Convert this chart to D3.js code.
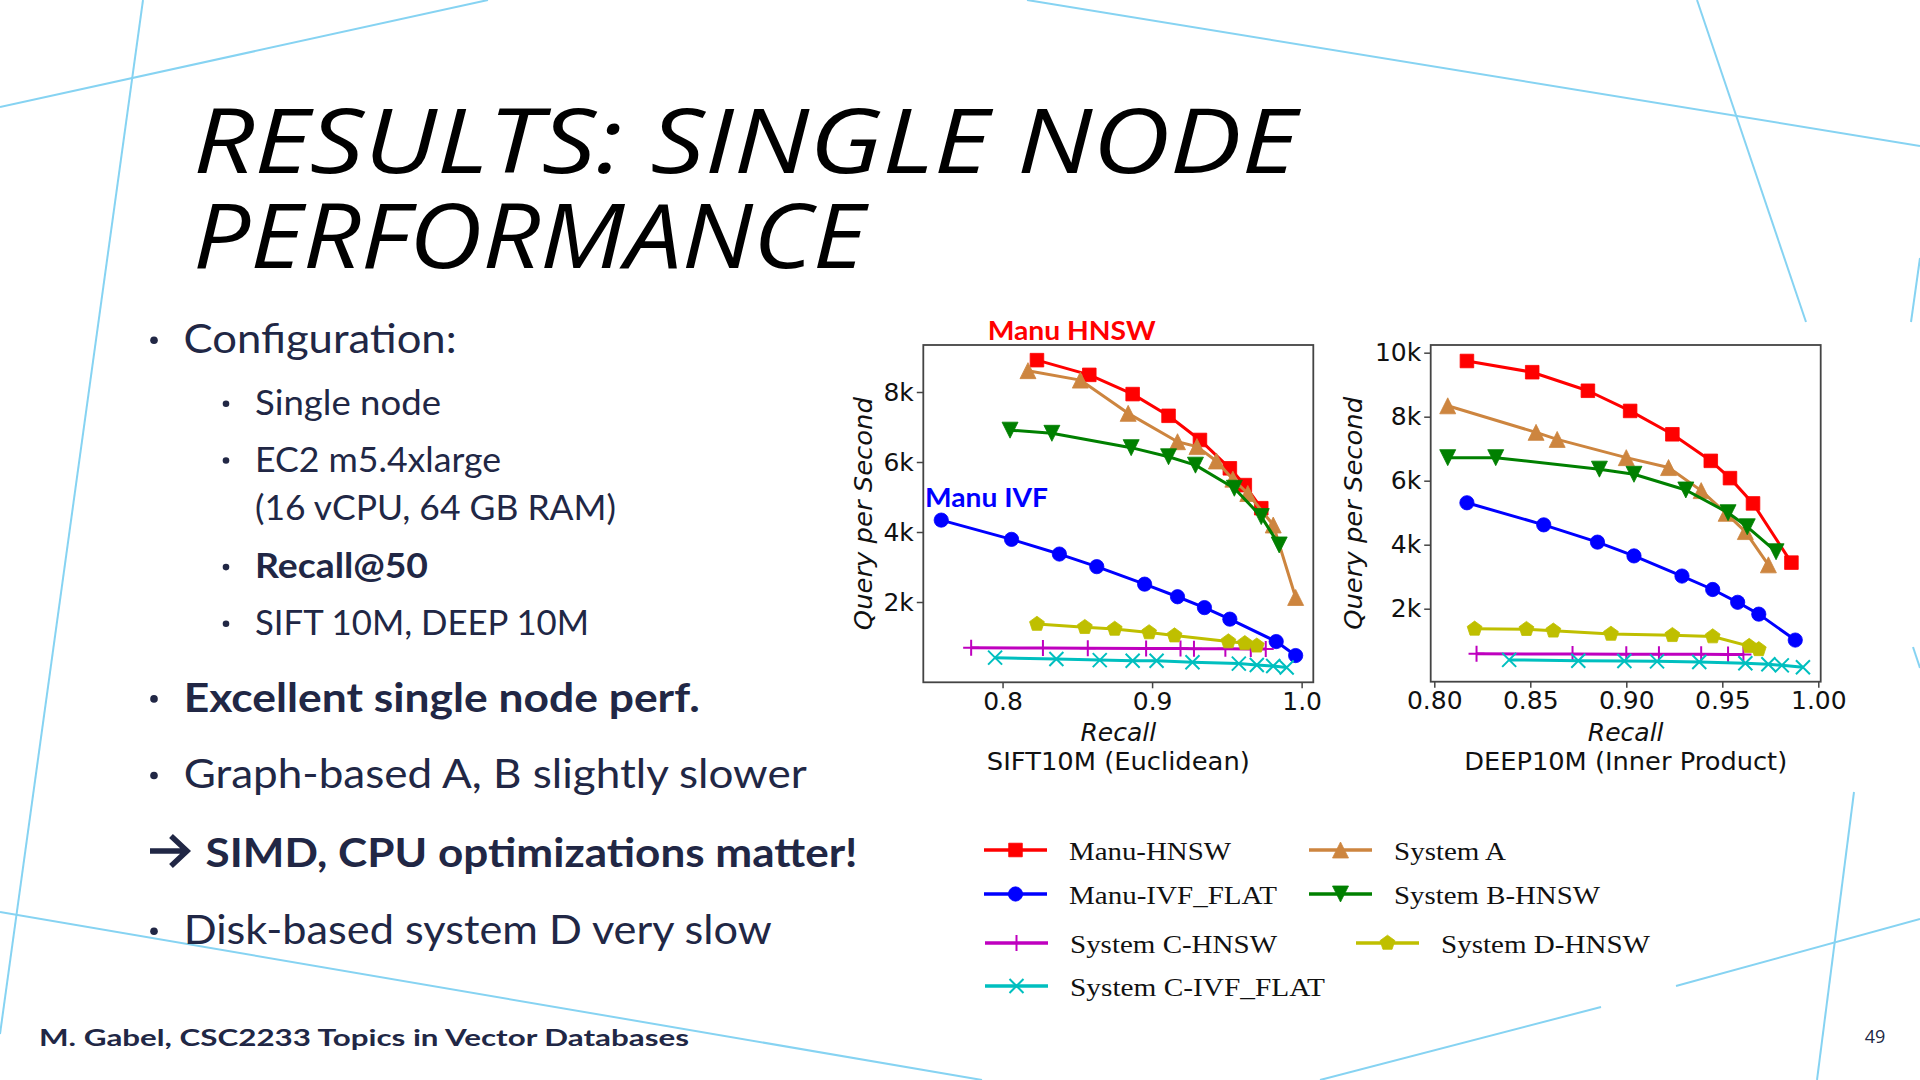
<!DOCTYPE html>
<html>
<head>
<meta charset="utf-8">
<script src="https://cdn.jsdelivr.net/npm/d3@7"></script>
<style>
  html, body { margin: 0; padding: 0; background: #fff; }
  svg { display: block; }
</style>
</head>
<body>
<svg id="slide" width="1920" height="1080"></svg>
<script>
// ---- data: [recall, queries per second] ----
var siftManuHnsw = [[0.823,8910],[0.858,8490],[0.887,7940],[0.911,7320],[0.932,6630],[0.952,5820],[0.962,5340],[0.973,4680]];
var siftManuIvf  = [[0.759,4340],[0.806,3790],[0.838,3370],[0.863,3010],[0.895,2510],[0.917,2150],[0.935,1840],[0.952,1510],[0.983,870],[0.996,470]];
var siftSystemA  = [[0.817,8610],[0.852,8340],[0.884,7390],[0.917,6580],[0.930,6440],[0.943,6030],[0.954,5510],[0.964,5100],[0.981,4200],[0.996,2130]];
var siftSystemB  = [[0.805,6910],[0.833,6820],[0.886,6410],[0.911,6150],[0.929,5910],[0.955,5250],[0.973,4440],[0.985,3630]];
var siftSystemCHnsw = [[0.779,690],[0.827,685],[0.857,680],[0.896,675],[0.919,670],[0.928,668],[0.949,665],[0.966,660],[0.976,655]];
var siftSystemD  = [[0.823,1370],[0.855,1280],[0.875,1230],[0.898,1130],[0.915,1040],[0.951,870],[0.962,820],[0.970,750]];
var siftSystemCIvf = [[0.795,410],[0.836,370],[0.865,340],[0.887,320],[0.903,320],[0.927,280],[0.958,240],[0.970,200],[0.981,170],[0.990,130]];

var deepManuHnsw = [[0.817,9740],[0.851,9390],[0.880,8810],[0.902,8180],[0.924,7450],[0.944,6620],[0.954,6080],[0.966,5290],[0.986,3440]];
var deepManuIvf  = [[0.817,5310],[0.857,4620],[0.885,4080],[0.904,3650],[0.929,3020],[0.945,2600],[0.958,2200],[0.969,1830],[0.988,1020]];
var deepSystemA  = [[0.807,8340],[0.853,7510],[0.864,7290],[0.900,6720],[0.922,6410],[0.939,5690],[0.952,4980],[0.962,4410],[0.974,3370]];
var deepSystemB  = [[0.807,6720],[0.832,6720],[0.886,6360],[0.904,6200],[0.931,5710],[0.953,5000],[0.963,4560],[0.978,3780]];
var deepSystemCHnsw = [[0.822,590],[0.872,585],[0.900,580],[0.917,578],[0.939,575],[0.953,572],[0.961,570]];
var deepSystemD  = [[0.821,1370],[0.848,1360],[0.862,1310],[0.892,1210],[0.924,1170],[0.945,1130],[0.964,830],[0.969,730]];
var deepSystemCIvf = [[0.839,400],[0.875,375],[0.899,365],[0.916,355],[0.938,335],[0.962,295],[0.974,265],[0.981,230],[0.992,170]];

var seriesNames = ["Manu-HNSW","Manu-IVF_FLAT","System A","System B-HNSW","System C-HNSW","System D-HNSW","System C-IVF_FLAT"];
var siftTicksX = [0.8, 0.9, 1.0];
var siftTicksY = [2000, 4000, 6000, 8000];
var deepTicksX = [0.80, 0.85, 0.90, 0.95, 1.00];
var deepTicksY = [2000, 4000, 6000, 8000, 10000];

// ---- styling per series ----
var series = [
  {name: seriesNames[0], color: "#ff0000", marker: "square",  sift: siftManuHnsw,    deep: deepManuHnsw,    leg: [984, 850]},
  {name: seriesNames[1], color: "#0000ff", marker: "circle",  sift: siftManuIvf,     deep: deepManuIvf,     leg: [984, 894]},
  {name: seriesNames[2], color: "#cd853f", marker: "triUp",   sift: siftSystemA,     deep: deepSystemA,     leg: [1309, 850]},
  {name: seriesNames[3], color: "#008000", marker: "triDown", sift: siftSystemB,     deep: deepSystemB,     leg: [1309, 894]},
  {name: seriesNames[4], color: "#bf00bf", marker: "plus",    sift: siftSystemCHnsw, deep: deepSystemCHnsw, leg: [985, 943]},
  {name: seriesNames[5], color: "#bfbf00", marker: "pent",    sift: siftSystemD,     deep: deepSystemD,     leg: [1356, 943]},
  {name: seriesNames[6], color: "#00bfbf", marker: "cross",   sift: siftSystemCIvf,  deep: deepSystemCIvf,  leg: [985, 986]}
];
var legendWidths = [162, 208, 112, 206, 207, 209, 255];

var ink = "#212745";
var svg = d3.select("#slide");

// background decoration lines
var deco = [
  [0,107,488,0],[143,0,0,1034],[1027,0,1920,146],[1697,0,1806,322],
  [1920,258,1911,322],[1913,647,1920,668],[1854,792,1817,1080],
  [1676,986,1920,919],[1320,1080,1601,1007],[0,912,982,1080]
];
svg.append("g").selectAll("line").data(deco).enter().append("line")
  .attr("x1", d => d[0]).attr("y1", d => d[1])
  .attr("x2", d => d[2]).attr("y2", d => d[3])
  .attr("stroke", "#86d3f2").attr("stroke-width", 2);

// title (one text, two lines)
var title = svg.append("text")
  .style("font", "italic 400 90px 'Open Sans'").style("fill", "#000");
title.append("tspan").attr("x", 193).attr("y", 173)
  .attr("textLength", 1104).attr("lengthAdjust", "spacingAndGlyphs")
  .text("RESULTS: SINGLE NODE");
title.append("tspan").attr("x", 193).attr("y", 268)
  .attr("textLength", 672).attr("lengthAdjust", "spacingAndGlyphs")
  .text("PERFORMANCE");

// bullets
var bullets = [
  {t: "Configuration:", x: 183.6, y: 353, w: 273, s: 40, b: false, dot: 154},
  {t: "Single node", x: 255, y: 415, w: 186, s: 35, b: false, dot: 226},
  {t: "EC2 m5.4xlarge", x: 255, y: 471.7, w: 246, s: 35, b: false, dot: 226},
  {t: "(16 vCPU, 64 GB RAM)", x: 255, y: 520, w: 361, s: 35, b: false, dot: null},
  {t: "Recall@50", x: 255, y: 578.3, w: 173, s: 35, b: true, dot: 226},
  {t: "SIFT 10M, DEEP 10M", x: 255, y: 635, w: 334, s: 35, b: false, dot: 226},
  {t: "Excellent single node perf.", x: 183.7, y: 711.7, w: 516, s: 40, b: true, dot: 154},
  {t: "Graph-based A, B slightly slower", x: 183.7, y: 788.3, w: 623, s: 40, b: false, dot: 154},
  {t: "SIMD, CPU optimizations matter!", x: 205.5, y: 866.7, w: 652, s: 40, b: true, dot: null},
  {t: "Disk-based system D very slow", x: 183.7, y: 944, w: 588, s: 40, b: false, dot: 154}
];
var bl = svg.append("g");
bullets.forEach(function(d) {
  bl.append("text").attr("x", d.x).attr("y", d.y)
    .attr("textLength", d.w).attr("lengthAdjust", "spacingAndGlyphs")
    .style("font-family", "Lato").style("font-size", d.s + "px")
    .style("font-weight", d.b ? 700 : 400).style("fill", ink)
    .text(d.t);
  if (d.dot != null) {
    bl.append("circle").attr("cx", d.dot).attr("cy", d.y - d.s * 0.32)
      .attr("r", d.s < 38 ? 3.3 : 3.8).attr("fill", ink);
  }
});
bl.append("path").attr("d", "M150,851H185M171,836L187,851L171,866")
  .attr("fill", "none").attr("stroke", ink).attr("stroke-width", 5.5);

// footer
svg.append("text").attr("x", 39).attr("y", 1046)
  .attr("textLength", 650).attr("lengthAdjust", "spacingAndGlyphs")
  .style("font", "700 22px Lato").style("fill", ink)
  .text("M. Gabel, CSC2233 Topics in Vector Databases");
svg.append("text").attr("x", 1875).attr("y", 1043).attr("text-anchor", "middle")
  .style("font", "18px 'Open Sans'").style("fill", ink).text("49");

// ---- marker shapes ----
function markerPath(type) {
  var r;
  switch (type) {
    case "square": r = 6.8; return "M" + (-r) + "," + (-r) + "h" + 2*r + "v" + 2*r + "h" + (-2*r) + "Z";
    case "circle": return d3.symbol(d3.symbolCircle, 160)();
    case "triUp": r = 8; return "M0," + (-r) + "L" + r + "," + r + "L" + (-r) + "," + r + "Z";
    case "triDown": r = 8; return "M0," + r + "L" + r + "," + (-r) + "L" + (-r) + "," + (-r) + "Z";
    case "pent":
      r = 7.8;
      var pts = d3.range(5).map(function(i) {
        var a = -Math.PI / 2 + i * 2 * Math.PI / 5;
        return [r * Math.cos(a), r * Math.sin(a)];
      });
      return "M" + pts.join("L") + "Z";
    case "plus": r = 8; return "M" + (-r) + ",0H" + r + "M0," + (-r) + "V" + r;
    case "cross": r = 7; return "M" + (-r) + "," + (-r) + "L" + r + "," + r + "M" + (-r) + "," + r + "L" + r + "," + (-r);
  }
}
function isLineMarker(type) { return type === "plus" || type === "cross"; }

// ---- one panel ----
function panel(key, box, xDomain, yDomain, xTicks, yTicks, xFmt, title, titleW, ylabOff) {
  var x = d3.scaleLinear().domain(xDomain).range([box.x0, box.x1]);
  var y = d3.scaleLinear().domain(yDomain).range([box.y1, box.y0]);
  var g = svg.append("g");

  var line = d3.line().x(d => x(d[0])).y(d => y(d[1]));
  series.forEach(function(s) {
    var sg = g.append("g");
    sg.append("path").datum(s[key]).attr("d", line)
      .attr("fill", "none").attr("stroke", s.color).attr("stroke-width", 3)
      .attr("stroke-linejoin", "round");
    sg.selectAll("path.mk").data(s[key]).enter().append("path")
      .attr("class", "mk")
      .attr("transform", d => "translate(" + x(d[0]) + "," + y(d[1]) + ")")
      .attr("d", markerPath(s.marker))
      .attr("fill", isLineMarker(s.marker) ? "none" : s.color)
      .attr("stroke", s.color).attr("stroke-width", isLineMarker(s.marker) ? 2 : 0.8);
  });

  g.append("rect").attr("x", box.x0).attr("y", box.y0)
    .attr("width", box.x1 - box.x0).attr("height", box.y1 - box.y0)
    .attr("fill", "none").attr("stroke", "#444").attr("stroke-width", 1.8);

  var ax = g.append("g").attr("transform", "translate(0," + box.y1 + ")")
    .call(d3.axisBottom(x).tickValues(xTicks).tickSize(6).tickPadding(4).tickFormat(xFmt));
  var ay = g.append("g").attr("transform", "translate(" + box.x0 + ",0)")
    .call(d3.axisLeft(y).tickValues(yTicks).tickSize(6.5).tickPadding(3)
      .tickFormat(d => (d / 1000) + "k"));
  [ax, ay].forEach(function(a) {
    a.select(".domain").remove();
    a.selectAll("line").attr("stroke", "#444").attr("stroke-width", 1.5);
    a.selectAll("text").style("font-family", "'DejaVu Sans'").style("font-size", "25px").style("fill", "#111");
  });

  var cx = (box.x0 + box.x1) / 2;
  g.append("text").attr("x", cx).attr("y", 741).attr("text-anchor", "middle")
    .style("font", "italic 25px 'DejaVu Sans'").style("fill", "#111").text("Recall");
  g.append("text").attr("x", cx).attr("y", 770).attr("text-anchor", "middle")
    .attr("textLength", titleW).attr("lengthAdjust", "spacingAndGlyphs")
    .style("font", "25px 'DejaVu Sans'").style("fill", "#111").text(title);
  var cy = (box.y0 + box.y1) / 2;
  g.append("text").attr("transform", "translate(" + (box.x0 - ylabOff) + "," + cy + ") rotate(-90)")
    .attr("text-anchor", "middle").attr("dy", "0.35em")
    .attr("textLength", 233).attr("lengthAdjust", "spacingAndGlyphs")
    .style("font", "italic 25px 'DejaVu Sans'").style("fill", "#111").text("Query per Second");
  return {x: x, y: y};
}

panel("sift", {x0: 923.3, x1: 1313.3, y0: 345, y1: 682.3}, [0.747, 1.0078], [-294, 9343],
  siftTicksX, siftTicksY, d3.format(".1f"), "SIFT10M (Euclidean)", 263, 60);
panel("deep", {x0: 1430.7, x1: 1820.7, y0: 345, y1: 681.7}, [0.79813, 1.00125], [-281, 10240],
  deepTicksX, deepTicksY, d3.format(".2f"), "DEEP10M (Inner Product)", 323, 77);

// annotations
svg.append("text").attr("x", 987.7).attr("y", 340)
  .attr("textLength", 168).attr("lengthAdjust", "spacingAndGlyphs")
  .style("font", "700 26px Lato").style("fill", "#ff0000").text("Manu HNSW");
svg.append("text").attr("x", 925).attr("y", 506.7)
  .attr("textLength", 123).attr("lengthAdjust", "spacingAndGlyphs")
  .style("font", "700 26px Lato").style("fill", "#0000ff").text("Manu IVF");

// legend
var lg = svg.append("g");
series.forEach(function(s, i) {
  var lx = s.leg[0], ly = s.leg[1];
  lg.append("line").attr("x1", lx).attr("x2", lx + 63).attr("y1", ly).attr("y2", ly)
    .attr("stroke", s.color).attr("stroke-width", 3.5);
  lg.append("path").attr("transform", "translate(" + (lx + 31.5) + "," + ly + ")")
    .attr("d", markerPath(s.marker))
    .attr("fill", isLineMarker(s.marker) ? "none" : s.color)
    .attr("stroke", s.color).attr("stroke-width", isLineMarker(s.marker) ? 2 : 0.8);
  lg.append("text").attr("x", lx + 85).attr("y", ly + 10)
    .attr("textLength", legendWidths[i]).attr("lengthAdjust", "spacingAndGlyphs")
    .style("font", "26px 'Liberation Serif'").style("fill", "#111").text(s.name);
});
</script>
</body>
</html>
